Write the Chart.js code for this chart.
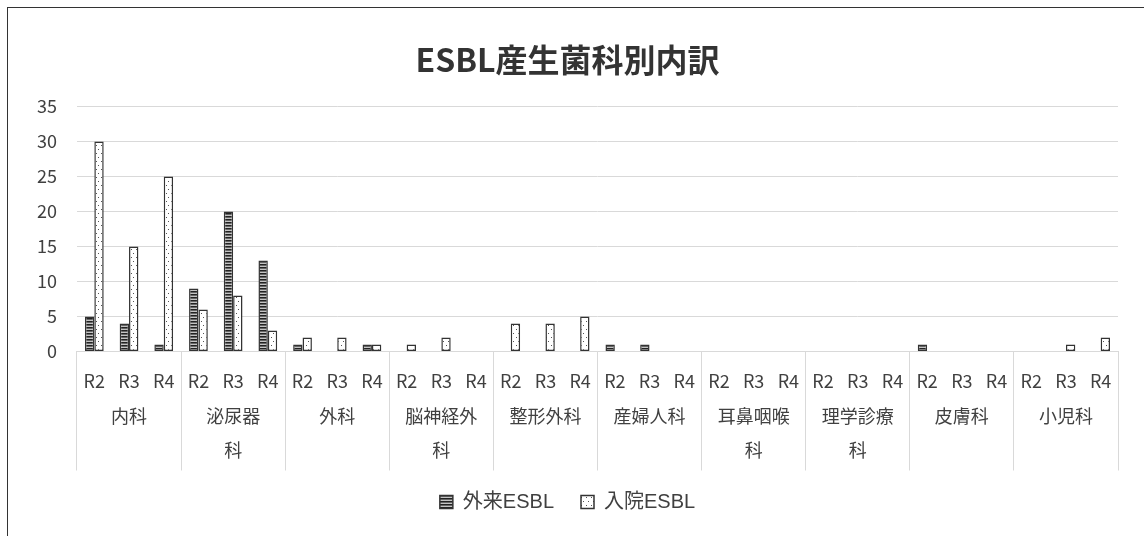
<!DOCTYPE html>
<html>
<head>
<meta charset="utf-8">
<script src="https://cdn.jsdelivr.net/npm/chart.js@4"></script>
<style>
  body { margin: 0; background: #fff; }
  #marco { position: absolute; left: 0; top: 0; width: 1144px; height: 536px; }
  #borde { position: absolute; left: 7px; top: 7px; right: 0; bottom: 0;
           border-left: 1.5px solid #333; border-top: 1.5px solid #333; pointer-events: none; }
</style>
</head>
<body>
<div id="marco">
  <canvas id="myChart" width="1144" height="536"></canvas>
  <div id="borde"></div>
</div>
<script>
//Datos del grafico.
const departamentos = ["内科", ["泌尿器", "科"], "外科", ["脳神経外", "科"], "整形外科",
  "産婦人科", ["耳鼻咽喉", "科"], ["理学診療", "科"], "皮膚科", "小児科"];
const anios = ["R2", "R3", "R4"];
const gairai = [5, 4, 1, 9, 20, 13, 1, 0, 1, 0, 0, 0, 0, 0, 0,
  1, 1, 0, 0, 0, 0, 0, 0, 0, 1, 0, 0, 0, 0, 0]; //外来ESBL
const nyuin = [30, 15, 25, 6, 8, 3, 2, 2, 1, 1, 2, 0, 4, 4, 5,
  0, 0, 0, 0, 0, 0, 0, 0, 0, 0, 0, 0, 0, 1, 2]; //入院ESBL
const ejeYMax = 35;
const ejeYPaso = 5;

const fuente = "'Noto Sans CJK JP', 'Noto Sans', sans-serif";
const fuenteLeyenda = "'Liberation Sans', 'Noto Sans CJK JP', sans-serif";

//--------------------------------Etiquetas de dos niveles--------------------------------//
//El nombre del departamento va bajo R3 (centro del grupo); se rellena con lineas
//vacias para que el eje tenga la altura de las dos filas.
const etiquetas = [];
departamentos.forEach((dep) => {
  anios.forEach((anio, j) => {
    if (j === 1) {
      const lineas = [anio].concat(dep);
      while (lineas.length < 6) lineas.push("");
      etiquetas.push(lineas);
    } else {
      etiquetas.push([anio]);
    }
  });
});

//--------------------------------Tramas de las barras--------------------------------//
function tramaRayas() {
  const c = document.createElement("canvas");
  c.width = 4;
  c.height = 3;
  const ctx = c.getContext("2d");
  ctx.fillStyle = "#222";
  ctx.fillRect(0, 0, 4, 1);
  ctx.fillStyle = "#666";
  ctx.fillRect(0, 1, 4, 1);
  ctx.fillStyle = "#c4c4c4";
  ctx.fillRect(0, 2, 4, 1);
  return ctx.createPattern(c, "repeat");
}

function tramaPuntos() {
  const c = document.createElement("canvas");
  c.width = 5;
  c.height = 8;
  const ctx = c.getContext("2d");
  ctx.fillStyle = "#ffffff";
  ctx.fillRect(0, 0, 5, 8);
  ctx.fillStyle = "#555";
  ctx.fillRect(1, 1, 1, 1);
  ctx.fillRect(3, 5, 1, 1);
  return ctx.createPattern(c, "repeat");
}

//--------------------------------Configuracion--------------------------------//
const config = {
  type: "bar",
  data: {
    labels: etiquetas,
    datasets: [
      {
        label: "外来ESBL",
        data: gairai,
        backgroundColor: tramaRayas(),
        borderColor: "#333",
        borderWidth: 1.5,
        borderSkipped: false,
      },
      {
        label: "入院ESBL",
        data: nyuin,
        backgroundColor: tramaPuntos(),
        borderColor: "#333",
        borderWidth: 1.5,
        borderSkipped: false,
      },
    ],
  },
  options: {
    responsive: false,
    animation: false,
    categoryPercentage: 0.54,
    barPercentage: 1,
    layout: { padding: { left: 17, right: 26, top: 0, bottom: 14 } },
    plugins: {
      title: {
        display: true,
        text: "ESBL産生菌科別内訳",
        color: "#333",
        font: { family: fuente, size: 32, weight: "bold" },
        padding: { top: 41, bottom: 27 },
      },
      legend: {
        position: "bottom",
        labels: {
          color: "#404040",
          font: { family: fuenteLeyenda, size: 20 },
          boxWidth: 13,
          boxHeight: 13,
          padding: 27,
        },
      },
      tooltip: { enabled: false },
    },
    scales: {
      x: {
        border: { display: true, color: "#d9d9d9", width: 1 },
        grid: {
          offset: true,
          drawOnChartArea: false,
          tickLength: 119,
          lineWidth: 1,
          //solo las lineas entre departamentos
          color: (ctx) => (ctx.index === undefined || ctx.index % 3 === 0 ? "#d9d9d9" : "rgba(0,0,0,0)"),
        },
        ticks: {
          autoSkip: false,
          maxRotation: 0,
          minRotation: 0,
          padding: -106.25,
          color: "#404040",
          font: { family: fuente, size: 18, lineHeight: "34.5px" },
        },
      },
      y: {
        min: 0,
        max: ejeYMax,
        border: { display: false },
        grid: { color: "#d9d9d9", lineWidth: 1, drawTicks: false },
        ticks: {
          stepSize: ejeYPaso,
          padding: 20,
          color: "#404040",
          font: { family: fuente, size: 18 },
        },
      },
    },
  },
};

const chartDOM = document.getElementById("myChart");
new Chart(chartDOM, config);
</script>
</body>
</html>
